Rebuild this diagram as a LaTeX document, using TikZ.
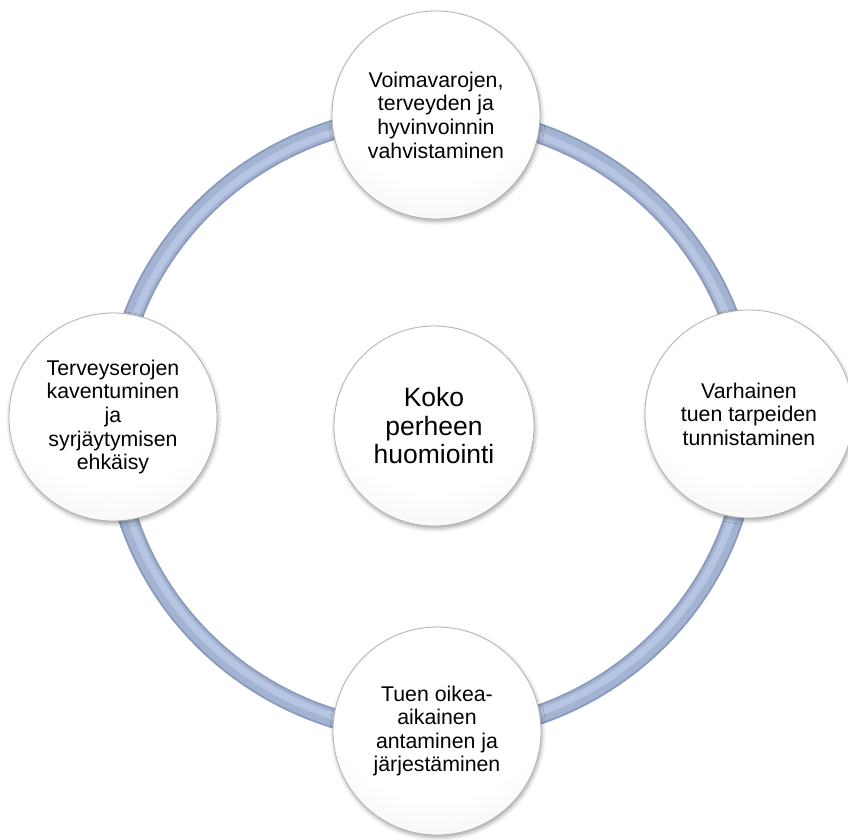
\documentclass[tikz,border=0pt]{standalone}
\usepackage{fontspec}
\setmainfont{Liberation Sans}
\usetikzlibrary{shadows.blur}
\definecolor{ringdark}{HTML}{8A9BBD}
\definecolor{ringmid}{HTML}{A3B4D3}
\definecolor{ringlight}{HTML}{B6C5E1}
\pgfdeclareradialshading{btnshade}{\pgfpoint{0bp}{20bp}}{color(0bp)=(white); color(30bp)=(white); color(52bp)=(black!8); color(70bp)=(black!22); color(100bp)=(black!22)}
\begin{document}
\begin{tikzpicture}[x=1pt,y=-1pt,
  ball/.style={circle, minimum size=208pt, inner sep=0pt, align=center,
    shading=btnshade, draw=black!30, line width=0.8pt,
    blur shadow={shadow xshift=1pt, shadow yshift=-2.5pt, shadow blur radius=4pt, shadow opacity=35},
    font=\fontsize{21.3pt}{23.6pt}\selectfont, text=black},
  centreball/.style={ball, minimum size=200pt, font=\fontsize{26.5pt}{28.5pt}\selectfont}]
\useasboundingbox (0,0) rectangle (848,839);
\coordinate (rc) at (431,424);
\draw[line width=20pt, color=ringdark] (rc) ellipse [x radius=318pt, y radius=309pt];
\draw[line width=16pt, color=ringmid] (rc) ellipse [x radius=318pt, y radius=309pt];
\draw[line width=7pt, color=ringlight] (rc) ellipse [x radius=316pt, y radius=307pt];
\node[ball] (top) at (436,115) {Voimavarojen,\\terveyden ja\\hyvinvoinnin\\vahvistaminen};
\node[ball] (left) at (113,417) {Terveyserojen\\kaventuminen\\ja\\syrjäytymisen\\ehkäisy};
\node[ball] (right) at (749,414) {Varhainen\\tuen tarpeiden\\tunnistaminen};
\node[ball] (bottom) at (437,731) {Tuen oikea-\\aikainen\\antaminen ja\\järjestäminen};
\node[centreball] (ctr) at (434,426) {Koko\\perheen\\huomiointi};
\end{tikzpicture}
\end{document}
